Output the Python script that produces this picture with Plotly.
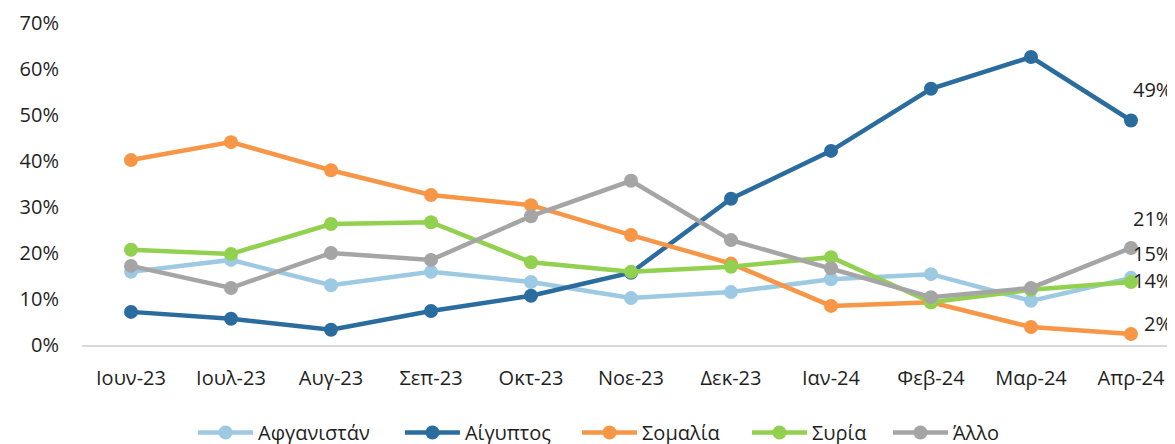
import plotly.graph_objects as go

months = ["Ιουν-23", "Ιουλ-23", "Αυγ-23", "Σεπ-23", "Οκτ-23", "Νοε-23",
          "Δεκ-23", "Ιαν-24", "Φεβ-24", "Μαρ-24", "Απρ-24"]

afghanistan = [0.159, 0.185, 0.130, 0.159, 0.137, 0.102, 0.115, 0.143, 0.154, 0.096, 0.146]
egypt       = [0.072, 0.057, 0.033, 0.074, 0.107, 0.157, 0.318, 0.422, 0.557, 0.626, 0.488]
somalia     = [0.402, 0.441, 0.380, 0.326, 0.304, 0.239, 0.177, 0.085, 0.093, 0.039, 0.024]
syria       = [0.207, 0.198, 0.263, 0.267, 0.180, 0.159, 0.170, 0.191, 0.093, 0.120, 0.137]
other       = [0.172, 0.124, 0.200, 0.185, 0.280, 0.357, 0.228, 0.167, 0.104, 0.124, 0.211]

series_names = ["Αφγανιστάν", "Αίγυπτος", "Σομαλία", "Συρία", "Άλλο"]
series_values = [afghanistan, egypt, somalia, syria, other]
colors = ["#9DCAE2", "#2B6C9F", "#F79646", "#92D050", "#A5A5A5"]

# final-point label vertical offsets (px)
label_shifts = [24, 31, 10, 1, 29]
# legend entry positions (paper x)
legend_x = [0.1016, 0.2909, 0.4529, 0.6084, 0.7374]

FONT = "'Open Sans', sans-serif"
FS = 20
TXT = "#1f1f1f"

fig = go.Figure()
for i, (name, vals, col) in enumerate(zip(series_names, series_values, colors)):
    lg = "legend" if i == 0 else f"legend{i+1}"
    fig.add_trace(go.Scatter(
        x=months, y=vals, name=name, mode="lines+markers",
        line=dict(color=col, width=4.5),
        marker=dict(color=col, size=14),
        cliponaxis=False, legend=lg,
    ))

for vals, shift in zip(series_values, label_shifts):
    fig.add_annotation(
        x=months[-1], y=vals[-1], text=f"{round(vals[-1]*100):.0f}%",
        showarrow=False, xanchor="right", yanchor="middle",
        xshift=43, yshift=shift,
        font=dict(family=FONT, size=FS, color=TXT),
    )

legends = {}
for i, lx in enumerate(legend_x):
    key = "legend" if i == 0 else f"legend{i+1}"
    legends[key] = dict(orientation="h", x=lx, xanchor="left", y=-0.2733, yanchor="middle",
                        font=dict(family=FONT, size=FS, color=TXT), itemwidth=55,
                        bgcolor="rgba(0,0,0,0)", borderwidth=0)

fig.update_layout(
    width=1167, height=444,
    margin=dict(l=74, r=0, t=15, b=107),
    paper_bgcolor="white", plot_bgcolor="white",
    font=dict(family=FONT, size=FS, color=TXT),
    showlegend=True,
    xaxis=dict(
        type="category", range=[-0.49, 10.44],
        showgrid=False, zeroline=False,
        showline=True, linecolor="#D9D9D9", linewidth=2,
        ticks="", ticklabelstandoff=14,
        tickfont=dict(family=FONT, size=FS, color=TXT),
    ),
    yaxis=dict(
        range=[0, 0.7], tickvals=[0, 0.1, 0.2, 0.3, 0.4, 0.5, 0.6, 0.7],
        tickformat=".0%", showgrid=False, zeroline=False, showline=False,
        ticks="", ticklabelstandoff=22,
        tickfont=dict(family=FONT, size=FS, color=TXT),
    ),
    **legends,
)

fig.write_html("out.html")
